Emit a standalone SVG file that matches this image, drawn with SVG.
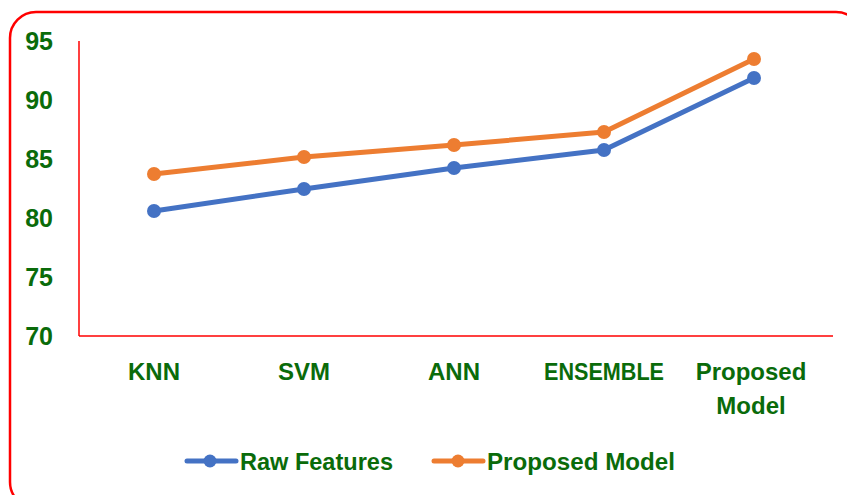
<svg xmlns="http://www.w3.org/2000/svg" width="847" height="495" viewBox="0 0 847 495">
<style>
.t{font-family:"Liberation Sans",Arial,sans-serif;font-weight:bold;font-size:24px;fill:#0A6B0A}
.y{font-size:25px}
.ax{stroke:#FF0000;stroke-width:1.5;fill:none}
.blue{stroke:#4472C4;stroke-width:5;fill:none;stroke-linecap:round;stroke-linejoin:round}
.orange{stroke:#ED7D31;stroke-width:5;fill:none;stroke-linecap:round;stroke-linejoin:round}
.bm{fill:#4472C4}
.om{fill:#ED7D31}
</style>
<rect x="0" y="0" width="847" height="495" fill="#FFFFFF"/>
<rect x="10" y="12" width="852" height="496" rx="26" ry="26" fill="none" stroke="#FF0000" stroke-width="2.5"/>
<g id="axes">
<line class="ax" x1="79" y1="41" x2="79" y2="336"/>
<line class="ax" x1="79" y1="336" x2="833" y2="336"/>
</g>
<g id="y-labels" text-anchor="end">
<text class="t y" x="53" y="50">95</text>
<text class="t y" x="53" y="109">90</text>
<text class="t y" x="53" y="168">85</text>
<text class="t y" x="53" y="227">80</text>
<text class="t y" x="53" y="286">75</text>
<text class="t y" x="53" y="345">70</text>
</g>
<g id="x-labels" text-anchor="middle">
<text class="t" x="154" y="380">KNN</text>
<text class="t" x="304" y="380">SVM</text>
<text class="t" x="454" y="380">ANN</text>
<text class="t" x="604" y="380" textLength="120" lengthAdjust="spacingAndGlyphs">ENSEMBLE</text>
<text class="t" x="751" y="380">Proposed</text>
<text class="t" x="751" y="414">Model</text>
</g>
<g id="series-raw">
<polyline class="blue" points="154,211 304,189 454,168 604,150 754,78"/>
<circle class="bm" cx="154" cy="211" r="7"/>
<circle class="bm" cx="304" cy="189" r="7"/>
<circle class="bm" cx="454" cy="168" r="7"/>
<circle class="bm" cx="604" cy="150" r="7"/>
<circle class="bm" cx="754" cy="78" r="7"/>
</g>
<g id="series-proposed">
<polyline class="orange" points="154,174 304,157 454,145 604,132 754,59"/>
<circle class="om" cx="154" cy="174" r="7"/>
<circle class="om" cx="304" cy="157" r="7"/>
<circle class="om" cx="454" cy="145" r="7"/>
<circle class="om" cx="604" cy="132" r="7"/>
<circle class="om" cx="754" cy="59" r="7"/>
</g>
<g id="legend">
<line class="blue" x1="187" y1="461" x2="236" y2="461"/>
<circle class="bm" cx="210" cy="461" r="6.5"/>
<text class="t" x="240" y="470" textLength="153" lengthAdjust="spacingAndGlyphs">Raw Features</text>
<line class="orange" x1="434" y1="461" x2="483" y2="461"/>
<circle class="om" cx="458" cy="461" r="6.5"/>
<text class="t" x="487" y="470" textLength="188" lengthAdjust="spacingAndGlyphs">Proposed Model</text>
</g>
</svg>
